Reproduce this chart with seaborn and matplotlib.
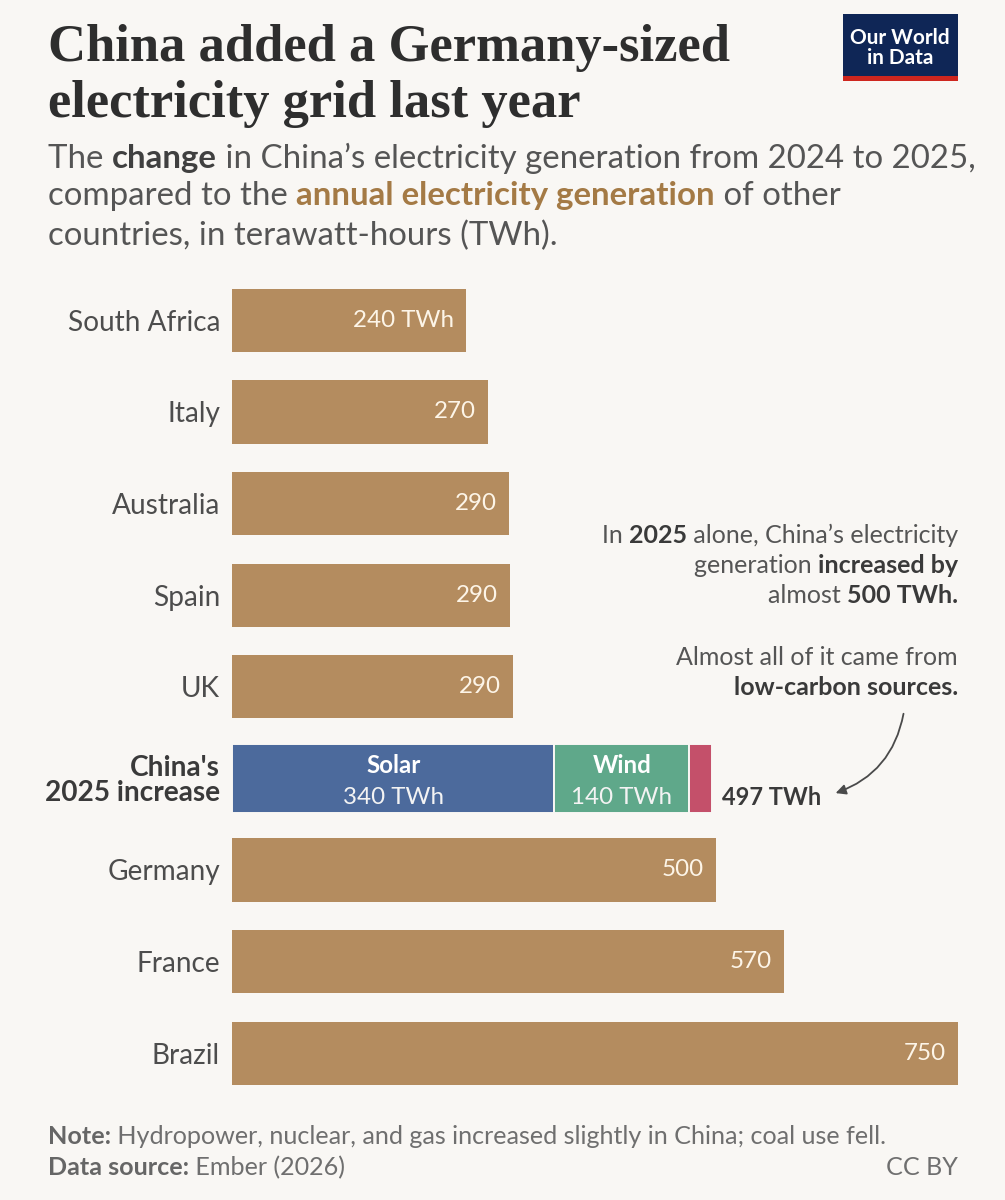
import matplotlib
matplotlib.use("Agg")
import matplotlib.pyplot as plt
import matplotlib.transforms as mtransforms
from matplotlib.font_manager import FontProperties
from matplotlib.patches import Rectangle
import seaborn as sns
import pandas as pd
import numpy as np

# ---------------- data ----------------
countries_top = ["South Africa", "Italy", "Australia", "Spain", "UK"]
values_top = [242, 264, 286, 287, 290]
labels_top = ["240 TWh", "270", "290", "290", "290"]

china_row = "China's\n2025 increase"
china_sources = ["Solar", "Wind", "Other"]
china_values = [333, 139, 24]
china_value_labels = ["340 TWh", "140 TWh", ""]
china_total_label = "497 TWh"

countries_bottom = ["Germany", "France", "Brazil"]
values_bottom = [500, 570, 750]
labels_bottom = ["500", "570", "750"]

# ---------------- style ----------------
BG = "#f9f7f4"
TAN = "#b48c5f"
SRC_COLORS = ["#4c6a9c", "#5fa88a", "#c4506a"]
TXT = "#555555"
DARK = "#3a3a3a"
SANS = "Lato"

sns.set_theme(style="white")
plt.rcParams["font.family"] = [SANS, "DejaVu Sans"]

W, H = 1005, 1200
fig = plt.figure(figsize=(W / 100, H / 100), dpi=100, facecolor=BG)
renderer = fig.canvas.get_renderer()
PIX = mtransforms.IdentityTransform()


def width_px(s, size, weight="normal", family=SANS):
    fp = FontProperties(family=family, weight=weight, size=size)
    w1, _, _ = renderer.get_text_width_height_descent(s + "|", fp, ismath=False)
    w2, _, _ = renderer.get_text_width_height_descent("|", fp, ismath=False)
    return w1 - w2


def fit(parts, target, family=SANS):
    tot = sum(width_px(t, 10, w, family) for t, w, c in parts)
    return 10 * target / tot


def rich(parts, x, ytop, size, ha="left", family=SANS):
    widths = [width_px(t, size, w, family) for t, w, c in parts]
    total = sum(widths)
    x0 = x if ha == "left" else x - total
    for (t, w, c), wd in zip(parts, widths):
        fig.text(x0, H - ytop, t, transform=PIX, fontsize=size, fontweight=w,
                 color=c, family=family, ha="left", va="baseline")
        x0 += wd


# ---------------- title ----------------
SERIF = "Liberation Serif"
t1 = [("China added a Germany-sized", "bold", "#2e2e2e")]
tsize = fit(t1, 687, SERIF)
rich(t1, 48, 61, tsize, family=SERIF)
rich([("electricity grid last year", "bold", "#2e2e2e")], 48, 117, tsize, family=SERIF)

# ---------------- subtitle ----------------
GOLD = "#a47a45"
s1 = [("The ", "normal", TXT), ("change", "bold", "#404040"),
      (" in China\u2019s electricity generation from 2024 to 2025,", "normal", TXT)]
ssize = fit(s1, 927)
rich(s1, 48, 168, ssize)
rich([("compared to the ", "normal", TXT), ("annual electricity generation", "bold", GOLD),
      (" of other", "normal", TXT)], 48, 205, ssize)
rich([("countries, in terawatt-hours (TWh).", "normal", TXT)], 48, 245, ssize)

# ---------------- logo ----------------
fig.patches.append(Rectangle((843, H - 76), 115, 62, transform=PIX, facecolor="#0f2656",
                             edgecolor="none", figure=fig))
fig.patches.append(Rectangle((843, H - 81), 115, 5, transform=PIX, facecolor="#ce261e",
                             edgecolor="none", figure=fig))
lsize = fit([("Our World", "bold", "w")], 100)
fig.text(900, H - 44, "Our World", transform=PIX, fontsize=lsize, color="white",
         fontweight="bold", ha="center", va="baseline")
fig.text(900, H - 64, "in Data", transform=PIX, fontsize=lsize, color="white",
         fontweight="bold", ha="center", va="baseline")

# ---------------- axes ----------------
ax = fig.add_axes([232 / W, 1 - 1099 / H, (958.3 - 232) / W, (1099 - 274.5) / H])
ax.set_facecolor(BG)

order = countries_top + [china_row] + countries_bottom
df = pd.DataFrame({"country": countries_top + countries_bottom,
                   "value": values_top + values_bottom,
                   "label": labels_top + labels_bottom})
sns.barplot(data=df, y="country", x="value", order=order, color=TAN, saturation=1,
            width=0.69, orient="h", ax=ax, errorbar=None, linewidth=0, edgecolor="none")

ci = order.index(china_row)
lefts = np.concatenate([[0], np.cumsum(china_values)[:-1]])
ax.barh([ci] * len(china_values), china_values, left=lefts, height=0.76,
        color=SRC_COLORS, edgecolor=BG, linewidth=1.4)

ax.set_xlim(0, 750)
ax.set_ylim(len(order) - 0.5, -0.5)
for s in ax.spines.values():
    s.set_visible(False)
ax.set_xticks([])
ax.set_xlabel("")
ax.set_ylabel("")

lab_size = fit([("South Africa", "normal", TXT)], 153)
ax.tick_params(axis="y", length=0, pad=8.6, labelsize=lab_size, labelcolor="#4d4d4d")
ax.set_yticks(range(len(order)))
ax.set_yticklabels(order)
tl = ax.get_yticklabels()[ci]
tl.set_fontweight("bold")
tl.set_color(DARK)
tl.set_linespacing(0.95)

# value labels inside bars
vsize = fit([("240 TWh", "normal", "w")], 101)
off = mtransforms.offset_copy(ax.transData, fig=fig, x=-12, y=0, units="dots")
for _, r in df.iterrows():
    ax.text(r["value"], order.index(r["country"]), r["label"], transform=off,
            ha="right", va="center", color="#fdf5e8", fontsize=vsize)

# China segment labels
up = mtransforms.offset_copy(ax.transData, fig=fig, x=0, y=13, units="dots")
dn = mtransforms.offset_copy(ax.transData, fig=fig, x=0, y=-19, units="dots")
for name, v, l, lf in zip(china_sources, china_values, china_value_labels, lefts):
    if l:
        ax.text(lf + v / 2, ci, name, transform=up, ha="center", va="center",
                color="white", fontsize=vsize, fontweight="bold")
        ax.text(lf + v / 2, ci, l, transform=dn, ha="center", va="center",
                color="#f3f3f3", fontsize=vsize)
tot_off = mtransforms.offset_copy(ax.transData, fig=fig, x=10, y=-19, units="dots")
ax.text(sum(china_values), ci, china_total_label, transform=tot_off, ha="left",
        va="center", color=DARK, fontsize=vsize * 0.98, fontweight="bold")

# ---------------- annotation ----------------
a1 = [("In ", "normal", TXT), ("2025", "bold", DARK),
      (" alone, China\u2019s electricity", "normal", TXT)]
asize = fit(a1, 357)
rich(a1, 958, 543, asize, ha="right")
rich([("generation ", "normal", TXT), ("increased by", "bold", DARK)], 958, 573, asize, ha="right")
rich([("almost ", "normal", TXT), ("500 TWh.", "bold", DARK)], 958, 603, asize, ha="right")
rich([("Almost all of it came from", "normal", TXT)], 958, 665, asize, ha="right")
rich([("low-carbon sources.", "bold", DARK)], 958, 695, asize, ha="right")

ax.annotate("", xy=(833, H - 794), xytext=(904, H - 711),
            xycoords="figure pixels", textcoords="figure pixels",
            arrowprops=dict(arrowstyle="-|>,head_length=0.5,head_width=0.25",
                            connectionstyle="arc3,rad=-0.3",
                            color="#4a4a4a", lw=1.3))

# ---------------- footer ----------------
FT = "#6f6f6f"
n1 = [("Note:", "bold", "#666666"),
      (" Hydropower, nuclear, and gas increased slightly in China; coal use fell.", "normal", FT)]
fsize = fit(n1, 840)
rich(n1, 48, 1144, fsize)
rich([("Data source:", "bold", "#666666"), (" Ember (2026)", "normal", FT)], 48, 1175, fsize)
rich([("CC BY", "normal", FT)], 958, 1175, fsize, ha="right")

fig.savefig("out.png", dpi=100, facecolor=BG)
